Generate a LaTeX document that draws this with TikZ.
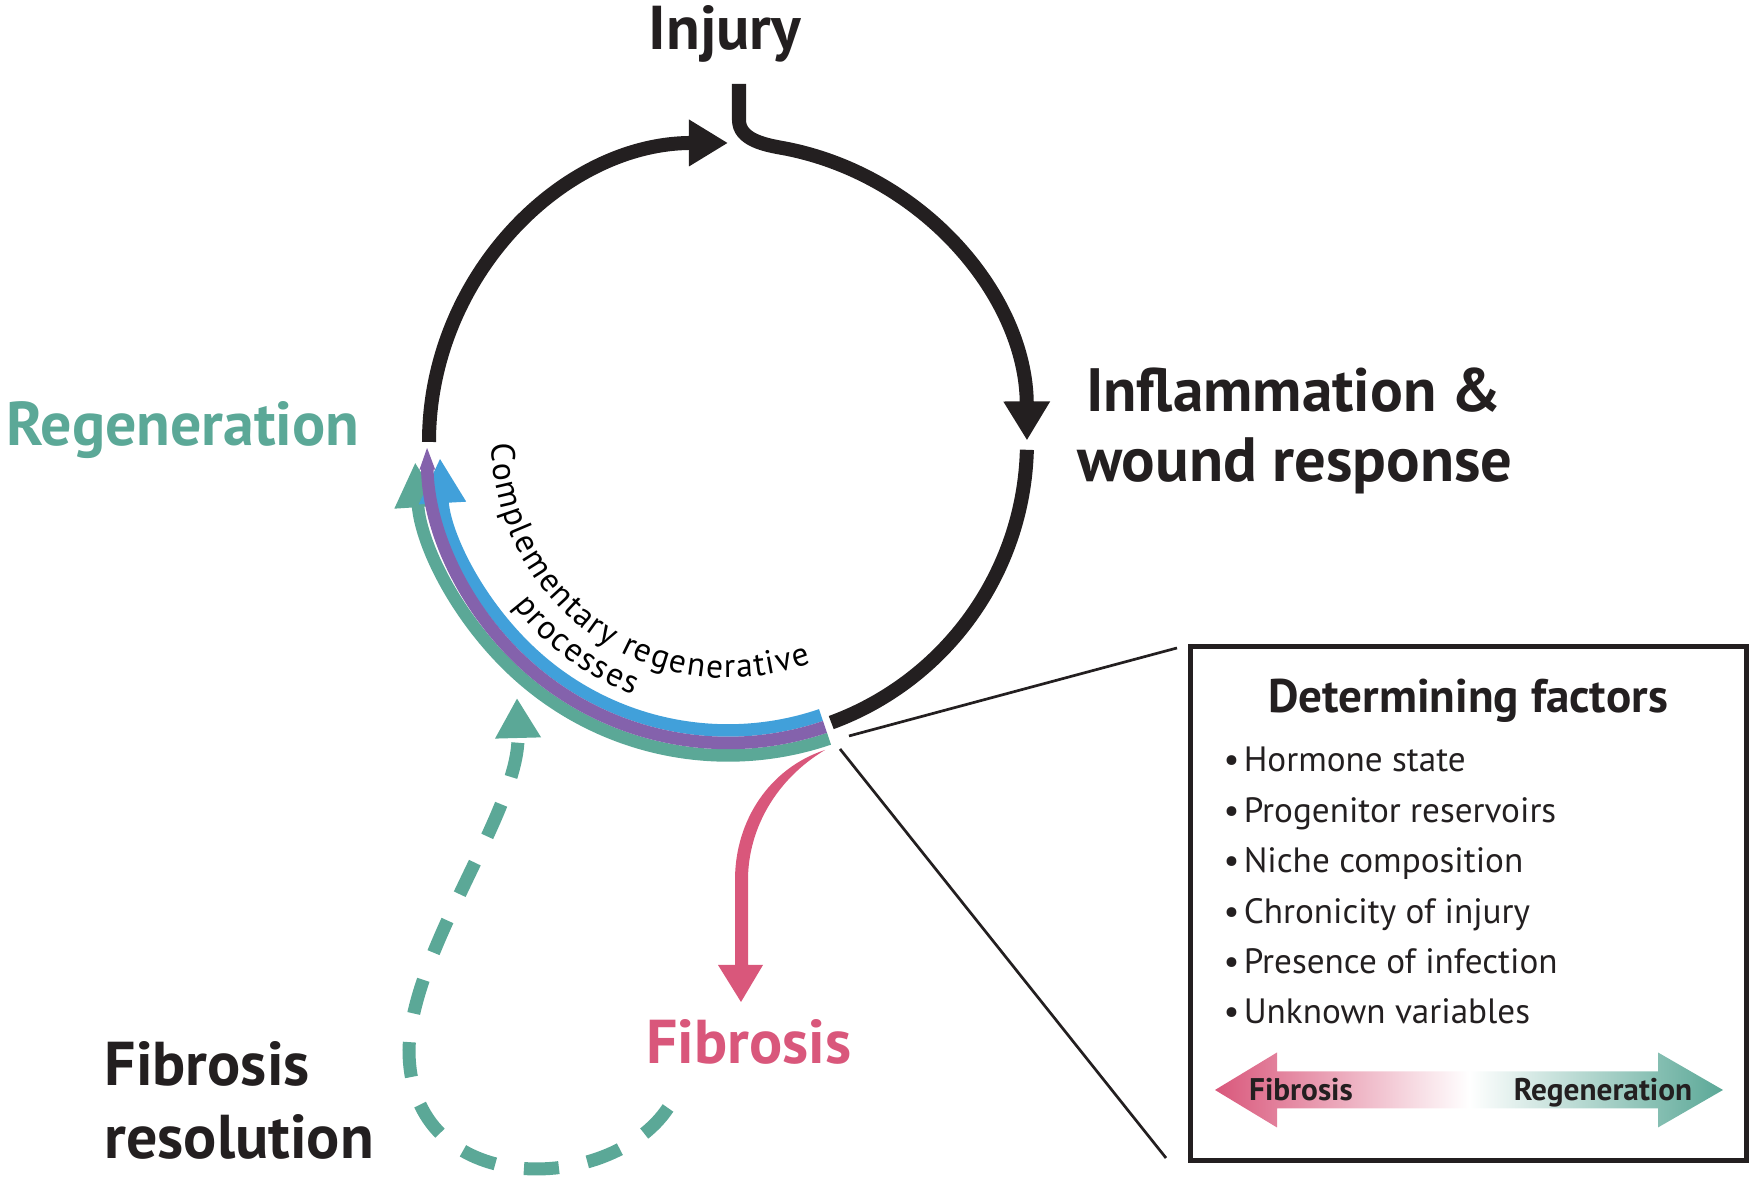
\documentclass[tikz,border=0pt]{standalone}
\usepackage{fontspec}
\setmainfont{PT Sans}
\usepackage{xcolor}
\usetikzlibrary{arrows.meta,decorations.text,positioning}

\definecolor{darkink}{HTML}{231F20}
\definecolor{regteal}{HTML}{5BA897}
\definecolor{fibpink}{HTML}{D9577B}
\definecolor{procblue}{HTML}{41A0DA}
\definecolor{procpurple}{HTML}{8462AC}

\tikzset{
  cycleline/.style={draw=darkink, line width=1.4mm},
  cyclehead/.style={-{Triangle[length=3.9mm, width=4.4mm]}},
  band/.style={line width=1.25mm},
  bighead/.style={-{Triangle[length=4.5mm, width=4.4mm]}},
  title/.style={font=\bfseries\fontsize{17.4pt}{20pt}\selectfont, text=darkink, inner sep=0pt},
  factor/.style={font=\fontsize{10pt}{12pt}\selectfont, text=darkink, inner sep=0pt, anchor=base west},
  scalelabel/.style={font=\bfseries\fontsize{8.9pt}{10pt}\selectfont, text=darkink, inner sep=0pt, anchor=base},
}

\begin{document}
\begin{tikzpicture}[x=0.01cm, y=0.01cm]
 \useasboundingbox (0,0) rectangle (1756,1195);
 \coordinate (C) at (728,753);
 \coordinate (injtop) at (739,1111);
 \coordinate (junctop) at (849,459);
 \coordinate (junbot) at (840,446);
 \coordinate (linetop) at (1177,547);
 \coordinate (linebot) at (1166,37);
 \coordinate (boxnw) at (1190.5,548.5);
 \coordinate (boxse) at (1746.5,34.5);

 % the cycle
 \draw[cycleline, cyclehead] ([shift={(180:299)}]C) arc (180:90:299);
 \draw[cycleline, cyclehead] (injtop) -- (739,1075) .. controls (739,1055) and (765,1050) .. ([shift={(79:299)}]C) arc (79:0.3:299);
 \draw[cycleline] ([shift={(-1.5:299)}]C) arc (-1.5:-69.8:299);

 % complementary processes
 \draw[band, regteal, bighead] ([shift={(-71.2:313.5)}]C) arc (-71.2:-176.3:313.5);
 \draw[band, procblue, bighead] ([shift={(-71.2:288.5)}]C) arc (-71.2:-176.8:288.5);
 \draw[band, procpurple, -{Triangle[length=2.4mm, width=1.35mm]}] ([shift={(-71.2:301)}]C) arc (-71.2:-179.3:301);

 \path[decorate, decoration={text along path, text align=left,
   text={|\fontsize{9.5pt}{11pt}\selectfont\kern0.45pt|Complementary regenerative}}]
   ([shift={(180:236)}]C) arc (180:305:236);
 \path[decorate, decoration={text along path, text align=left,
   text={|\fontsize{9.5pt}{11pt}\selectfont\kern0.45pt|processes}}]
   ([shift={(217:270)}]C) arc (217:272:270);

 % fibrosis branch
 \fill[fibpink] (825,445) .. controls (770,427) and (735,375) .. (735,315) -- (735,230) -- (718,230)
   -- (741,193) -- (763,230) -- (748,230) -- (748,315) .. controls (748,365) and (775,415) .. (825,445) -- cycle;

 % resolution, dashed
 \draw[regteal, line width=1.3mm, dash pattern=on 3.5mm off 2.9mm, -{Triangle[length=4mm, width=4.3mm]}]
   (668,87) .. controls (610,0) and (409,-5) .. (409,145) .. controls (411,245) and (520,385) .. (517,497);

 % labels
 \node[title, anchor=base, font=\bfseries\fontsize{17.6pt}{20pt}\selectfont] (injury) at (725,1145) {Injury};
 \node[title, anchor=base] (inflam) at (1294,783) {Inflammation \&};
 \node[title, anchor=base, font=\bfseries\fontsize{17.8pt}{20pt}\selectfont] (wound) at (1295,713) {wound response};
 \node[title, anchor=base, text=regteal, font=\bfseries\fontsize{17.6pt}{20pt}\selectfont] (regen) at (183,749) {Regeneration};
 \node[title, anchor=base, text=fibpink, font=\bfseries\fontsize{17.6pt}{20pt}\selectfont] (fibrosis) at (749,131) {Fibrosis};
 \node[title, anchor=base west, font=\bfseries\fontsize{17.6pt}{20pt}\selectfont] (resolA) at (104,109) {Fibrosis};
 \node[title, anchor=base west, font=\bfseries\fontsize{17.6pt}{20pt}\selectfont] (resolB) at (104,36) {resolution};

 % zoom box
 \draw[darkink, line width=0.27mm] (junctop) -- (linetop);
 \draw[darkink, line width=0.27mm] (junbot) -- (linebot);
 \draw[darkink, line width=0.5mm] (boxnw) rectangle (boxse);

 \node[font=\bfseries\fontsize{13.4pt}{15pt}\selectfont, text=darkink, anchor=base, inner sep=0pt] (dethead) at (1468,482) {Determining factors};
 \foreach \fac [count=\k] in {Hormone state, Progenitor reservoirs, Niche composition, Chronicity of injury, Presence of infection, Unknown variables}
   \node[factor] (fac\k) at (1223, {423-50.4*(\k-1)}) {\textbullet\hspace{0.12em}\fac};

 \shade[left color=fibpink, right color=regteal, middle color=white]
   (1215,105) -- (1277,142.5) -- (1277,123.5) -- (1658,123.5) -- (1658,142.5) -- (1723,105)
   -- (1658,67.5) -- (1658,86.5) -- (1277,86.5) -- (1277,67.5) -- cycle;
 \node[scalelabel] (scalefib) at (1301,94) {Fibrosis};
 \node[scalelabel] (scalereg) at (1603,94) {Regeneration};

\end{tikzpicture}
\end{document}
